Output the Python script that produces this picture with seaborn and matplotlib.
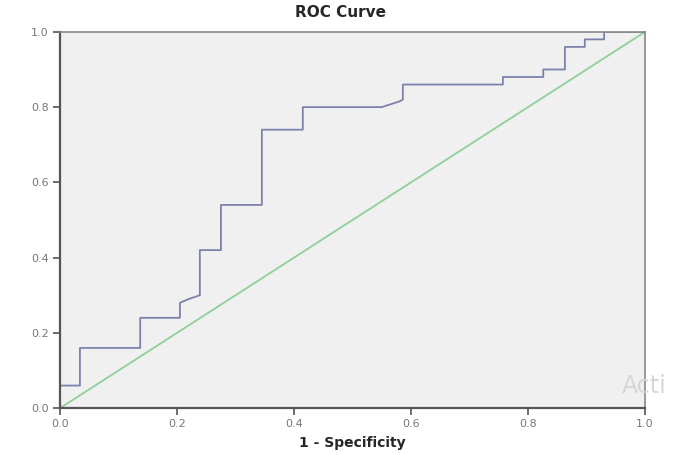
import pandas as pd
import matplotlib
matplotlib.use("Agg")
import matplotlib.pyplot as plt
import seaborn as sns

# --- Data ---
fpr = [0.0, 0.0, 0.034, 0.034, 0.137, 0.137, 0.205, 0.205, 0.22, 0.239, 0.239,
       0.275, 0.275, 0.345, 0.345, 0.415, 0.415, 0.55, 0.58, 0.586, 0.586,
       0.757, 0.757, 0.826, 0.826, 0.863, 0.863, 0.897, 0.897, 0.93, 0.93, 1.0]
tpr = [0.0, 0.06, 0.06, 0.16, 0.16, 0.24, 0.24, 0.28, 0.29, 0.30, 0.42,
       0.42, 0.54, 0.54, 0.74, 0.74, 0.80, 0.80, 0.815, 0.82, 0.86,
       0.86, 0.88, 0.88, 0.90, 0.90, 0.96, 0.96, 0.98, 0.98, 1.0, 1.0]
ref_x = [0.0, 1.0]
ref_y = [0.0, 1.0]
ticks = [0.0, 0.2, 0.4, 0.6, 0.8, 1.0]
tick_labels = ["0.0", "0.2", "0.4", "0.6", "0.8", "1.0"]

sns.set_style("white")
plt.rcParams["font.family"] = ["DejaVu Sans"]

fig = plt.figure(figsize=(6.76, 4.55), dpi=100)
ax = fig.add_axes([0.0888, 0.103, 0.8654, 0.827])
ax.set_facecolor("#f0f0f0")

roc = pd.DataFrame({"fpr": fpr, "tpr": tpr})
ref = pd.DataFrame({"x": ref_x, "y": ref_y})
sns.lineplot(data=ref, x="x", y="y", ax=ax, color="#8fcf9c", linewidth=1.3)
sns.lineplot(data=roc, x="fpr", y="tpr", ax=ax, sort=False, estimator=None,
             color="#7d82ad", linewidth=1.3)

ax.set_xlim(0, 1)
ax.set_ylim(0, 1)
ax.set_xticks(ticks)
ax.set_xticklabels(tick_labels)
ax.set_yticks(ticks)
ax.set_yticklabels(tick_labels)
# seaborn's white style hides tick marks; turn them back on
ax.tick_params(bottom=True, left=True, direction="out", length=5, width=1.2,
               color="#555555", labelsize=8, labelcolor="#777777", pad=3)

for side in ["left", "bottom"]:
    ax.spines[side].set_color("#555555")
    ax.spines[side].set_linewidth(1.6)
for side in ["top", "right"]:
    ax.spines[side].set_color("#888888")
    ax.spines[side].set_linewidth(1.2)

ax.set_xlabel("1 - Specificity", fontsize=10, fontweight="bold", labelpad=5)
ax.set_ylabel("")
fig.text(0.503, 0.99, "ROC Curve", ha="center", va="top",
         fontsize=11, fontweight="bold")

# faint watermark in the lower right corner of the source image
fig.text(0.92, 0.125, "Acti", fontsize=17, color="#d6d6d6", ha="left", va="bottom")

fig.savefig("out.png", dpi=100)
